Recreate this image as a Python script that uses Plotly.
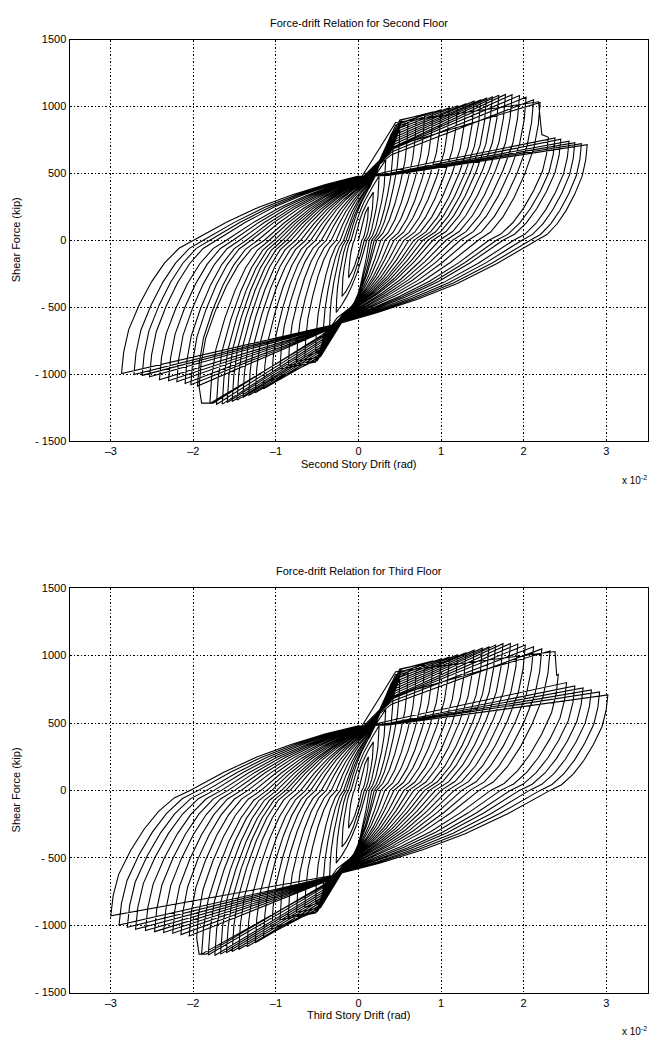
import plotly.graph_objects as go

# ---------------- data (drift in 1e-2 rad, force in kip) -------------
# Second floor, one entry per loading cycle
dp2 = [0.12, 0.18, 0.25, 0.33, 0.42, 0.50, 0.60, 0.70, 0.80, 0.90, 1.00, 1.10, 1.20, 1.30, 1.40, 1.48,
       1.55, 1.62, 1.70, 1.78, 1.86, 1.95, 2.03, 2.12, 2.20, 2.30, 2.38, 2.45, 2.55, 2.62, 2.70, 2.77]
Fp2 = [250, 360, 480, 600, 730, 820, 880, 915, 940, 960, 975, 990, 1005, 1020, 1040, 1050,
       1062, 1072, 1085, 1090, 1088, 1082, 1070, 1050, 1030, 770, 765, 755, 740, 730, 722, 715]
d0p2 = [0.04, 0.07, 0.10, 0.13, 0.16, 0.19, 0.22, 0.27, 0.32, 0.38, 0.43, 0.49, 0.55, 0.61, 0.67, 0.72,
        0.78, 0.84, 0.90, 0.98, 1.06, 1.14, 1.23, 1.33, 1.45, 1.58, 1.67, 1.75, 1.88, 1.98, 2.08, 2.16]
dn2 = [-0.12, -0.20, -0.27, -0.35, -0.43, -0.52, -0.65, -0.75, -0.85, -0.95, -1.05, -1.15, -1.25, -1.33, -1.40, -1.47,
       -1.53, -1.59, -1.65, -1.72, -1.80, -1.93, -1.95, -2.03, -2.10, -2.20, -2.30, -2.41, -2.53, -2.62, -2.72, -2.87]
Fn2 = [-280, -420, -540, -660, -760, -830, -870, -905, -935, -960, -1050, -1110, -1140, -1160, -1175, -1195,
       -1205, -1212, -1225, -1227, -1220, -1095, -1090, -1080, -1070, -1057, -1050, -1042, -1020, -1010, -1003, -996]
d0n2 = [-0.05, -0.09, -0.12, -0.15, -0.18, -0.22, -0.27, -0.33, -0.39, -0.45, -0.52, -0.58, -0.64, -0.70, -0.76, -0.82,
        -0.87, -0.92, -0.97, -1.02, -1.08, -1.14, -1.22, -1.30, -1.36, -1.44, -1.52, -1.60, -1.72, -1.80, -1.88, -2.00]
# strength drops (fracture steps), keyed by cycle
fracP2 = {25: [(2.18, 1035), (2.22, 790)]}
fracN2 = {21: [(-1.76, -1217), (-1.90, -1217)]}

# Third floor
dp3 = [0.12, 0.18, 0.25, 0.33, 0.42, 0.50, 0.60, 0.70, 0.80, 0.90, 1.00, 1.10, 1.20, 1.30, 1.40, 1.50,
       1.58, 1.66, 1.75, 1.84, 1.93, 2.02, 2.12, 2.22, 2.32, 2.42, 2.52, 2.62, 2.72, 2.82, 2.92, 3.02]
Fp3 = [250, 360, 480, 600, 730, 820, 880, 915, 940, 960, 975, 990, 1005, 1020, 1040, 1055,
       1065, 1078, 1088, 1090, 1086, 1078, 1066, 1050, 1035, 860, 800, 775, 760, 745, 730, 708]
d0p3 = [0.04, 0.07, 0.10, 0.13, 0.16, 0.19, 0.22, 0.27, 0.32, 0.38, 0.43, 0.49, 0.55, 0.61, 0.67, 0.74,
        0.80, 0.86, 0.93, 1.00, 1.08, 1.16, 1.25, 1.35, 1.46, 1.60, 1.72, 1.84, 1.95, 2.07, 2.20, 2.32]
dn3 = [-0.12, -0.20, -0.27, -0.35, -0.43, -0.52, -0.65, -0.75, -0.85, -0.95, -1.05, -1.15, -1.25, -1.35, -1.45, -1.53,
       -1.60, -1.67, -1.74, -1.82, -1.90, -1.96, -2.05, -2.15, -2.25, -2.36, -2.47, -2.58, -2.70, -2.80, -2.90, -3.00]
Fn3 = [-280, -420, -540, -660, -760, -830, -870, -905, -935, -960, -1030, -1090, -1130, -1160, -1180, -1195,
       -1205, -1215, -1225, -1222, -1215, -1095, -1080, -1070, -1060, -1055, -1048, -1040, -1030, -1015, -1000, -930]
d0n3 = [-0.05, -0.09, -0.12, -0.15, -0.18, -0.22, -0.27, -0.33, -0.39, -0.45, -0.52, -0.58, -0.64, -0.70, -0.77, -0.83,
        -0.88, -0.93, -0.99, -1.05, -1.11, -1.18, -1.26, -1.34, -1.42, -1.50, -1.58, -1.66, -1.75, -1.84, -1.94, -2.04]
fracP3 = {25: [(2.38, 1030), (2.40, 855)]}
fracN3 = {21: [(-1.85, -1215), (-1.93, -1215)]}

# reloading knees (where a reload path leaves the steep central band), shared by both floors
kpd = [0.08, 0.12, 0.17, 0.22, 0.28, 0.34, 0.40, 0.45, 0.50, 0.52, 0.52, 0.51, 0.50, 0.49, 0.48, 0.47,
       0.46, 0.45, 0.44, 0.43, 0.42, 0.41, 0.40, 0.40, 0.42, 0.45, 0.40, 0.38, 0.38, 0.37, 0.37, 0.36]
kpF = [200, 300, 400, 500, 600, 700, 800, 860, 900, 900, 880, 860, 840, 820, 800, 780,
       760, 740, 720, 700, 690, 680, 660, 640, 700, 880, 520, 500, 495, 490, 490, 485]
knd = [-0.10, -0.15, -0.20, -0.26, -0.32, -0.38, -0.42, -0.46, -0.50, -0.52, -0.52, -0.50, -0.49, -0.48, -0.47, -0.46,
       -0.45, -0.44, -0.43, -0.42, -0.42, -0.42, -0.33, -0.31, -0.30, -0.29, -0.28, -0.27, -0.26, -0.26, -0.25, -0.25]
knF = [-260, -380, -480, -580, -680, -760, -820, -870, -900, -910, -900, -880, -860, -840, -820, -800,
       -780, -760, -740, -720, -710, -700, -660, -655, -650, -645, -640, -635, -632, -630, -628, -625]

# pinch points where the unloading branches meet the central band, per cycle
pud = [0.14, 0.14, 0.14, 0.14, 0.13, 0.13, 0.12, 0.12, 0.11, 0.11, 0.10, 0.10, 0.09, 0.09, 0.08, 0.08,
       0.07, 0.07, 0.06, 0.06, 0.05, 0.05, 0.04, 0.04, 0.03, 0.03, 0.02, 0.02, 0.01, 0.01, 0.00, 0.00]
puF = [400, 400, 400, 400, 405, 410, 415, 420, 425, 430, 432, 435, 438, 440, 442, 445,
       448, 450, 452, 455, 458, 460, 462, 464, 466, 468, 470, 472, 474, 476, 478, 480]
pdd = [-0.05, -0.05, -0.05, -0.05, -0.06, -0.07, -0.08, -0.09, -0.10, -0.11, -0.12, -0.13, -0.14, -0.15, -0.16, -0.17,
       -0.18, -0.18, -0.19, -0.19, -0.20, -0.20, -0.21, -0.21, -0.22, -0.22, -0.23, -0.23, -0.24, -0.24, -0.25, -0.25]
pdF = [-480, -480, -480, -480, -485, -490, -495, -500, -505, -510, -515, -520, -525, -530, -535, -540,
       -545, -550, -555, -560, -565, -570, -575, -580, -585, -590, -595, -600, -605, -610, -615, -620]

x_ticks = [-3, -2, -1, 0, 1, 2, 3]
y_ticks = [-1500, -1000, -500, 0, 500, 1000, 1500]

# ---------------- shape templates for the unloading branches (style) ----------------
TMPL_A = [(0, 0), (0.03, 0.16), (0.10, 0.33), (0.25, 0.52), (0.42, 0.69), (0.60, 0.83), (0.80, 0.94), (1, 1)]
TMPL_B = [(0, 0), (0.2, 0.28), (0.4, 0.52), (0.6, 0.71), (0.8, 0.87), (1, 1)]


def seg(p0, p1, tmpl):
    return [(p0[0] + u * (p1[0] - p0[0]), p0[1] + v * (p1[1] - p0[1])) for u, v in tmpl[1:]]


def build(dp, Fp, d0p, dn, Fn, d0n, fracP, fracN):
    n = len(dp)
    pts = [(0.0, 0.0)]
    for i in range(n):
        # towards positive peak
        pts.append((kpd[i], kpF[i]))
        pts.extend(fracP.get(i, []))
        peak = (dp[i], Fp[i])
        pts.append(peak)
        z = (d0p[i], 0.0)
        pts.extend(seg(peak, z, TMPL_A))
        kn = (knd[i], knF[i])
        pdn = (pdd[i], pdF[i])
        if kn[1] < pdn[1]:
            pts.extend(seg(z, pdn, TMPL_B))
        else:
            pts.extend(seg(z, kn, TMPL_B))
        pts.append(kn)
        pts.extend(fracN.get(i, []))
        peak = (dn[i], Fn[i])
        pts.append(peak)
        z = (d0n[i], 0.0)
        pts.extend(seg(peak, z, TMPL_A))
        j = min(i + 1, n - 1)
        kp = (kpd[j], kpF[j])
        pup = (pud[i], puF[i])
        if i + 1 < n and kp[1] <= pup[1]:
            pts.extend(seg(z, kp, TMPL_B))
        else:
            pts.extend(seg(z, pup, TMPL_B))
    return [p[0] for p in pts], [p[1] for p in pts]


x2, y2 = build(dp2, Fp2, d0p2, dn2, Fn2, d0n2, fracP2, fracN2)
x3, y3 = build(dp3, Fp3, d0p3, dn3, Fn3, d0n3, fracP3, fracN3)

W, H = 653, 1045
FONT = "Liberation Sans"

fig = go.Figure()
fig.add_trace(go.Scatter(x=x2, y=y2, mode="lines", line=dict(color="black", width=1.1),
                         xaxis="x", yaxis="y", showlegend=False, hoverinfo="skip"))
fig.add_trace(go.Scatter(x=x3, y=y3, mode="lines", line=dict(color="black", width=1.1),
                         xaxis="x2", yaxis="y2", showlegend=False, hoverinfo="skip"))

xl, xr = 69.5 / W, 647.5 / W
top_dom = [1 - 440 / H, 1 - 34 / H]
bot_dom = [1 - 998 / H, 1 - 589 / H]

axis_common = dict(showgrid=True, gridcolor="black", gridwidth=1, griddash="2px,2px,1px,2px",
                   showline=True, mirror=True, linecolor="black", linewidth=1,
                   zeroline=False, ticks="", tickfont=dict(family=FONT, size=11, color="black"))

xt = [str(v).replace("-", "\u2013") for v in x_ticks]
yt = [str(v).replace("-", "- ") for v in y_ticks]

fig.update_layout(
    width=W, height=H, margin=dict(l=0, r=0, t=0, b=0),
    paper_bgcolor="white", plot_bgcolor="white",
    xaxis=dict(domain=[xl, xr], range=[-3.5, 3.5], tickvals=x_ticks, ticktext=xt, anchor="y", **axis_common),
    yaxis=dict(domain=top_dom, range=[-1500, 1500], tickvals=y_ticks, ticktext=yt, anchor="x", **axis_common),
    xaxis2=dict(domain=[xl, xr], range=[-3.5, 3.5], tickvals=x_ticks, ticktext=xt, anchor="y2", **axis_common),
    yaxis2=dict(domain=bot_dom, range=[-1500, 1500], tickvals=y_ticks, ticktext=yt, anchor="x2", **axis_common),
)


def ann(text, xp, yp, angle=0, size=11, xanchor="center"):
    fig.add_annotation(text=text, x=xp / W, y=1 - yp / H, xref="paper", yref="paper",
                       showarrow=False, textangle=angle, xanchor=xanchor, yanchor="middle",
                       font=dict(family=FONT, size=size, color="black"))


ann("Force-drift Relation for Second Floor", 358.5, 17)
ann("Force-drift Relation for Third Floor", 358.5, 572)
ann("Second Story Drift (rad)", 358.5, 463)
ann("Third Story Drift (rad)", 358.5, 1021)
ann("x 10<sup>-2</sup>", 649, 480, size=10, xanchor="right")
ann("x 10<sup>-2</sup>", 649, 1037, size=10, xanchor="right")
ann("Shear Force (kip)", 16, 237, angle=-90)
ann("Shear Force (kip)", 16, 793.5, angle=-90)

fig.write_html("out.html", config={"displayModeBar": False},
               post_script="document.body.style.margin='0';document.body.style.overflow='hidden';")
